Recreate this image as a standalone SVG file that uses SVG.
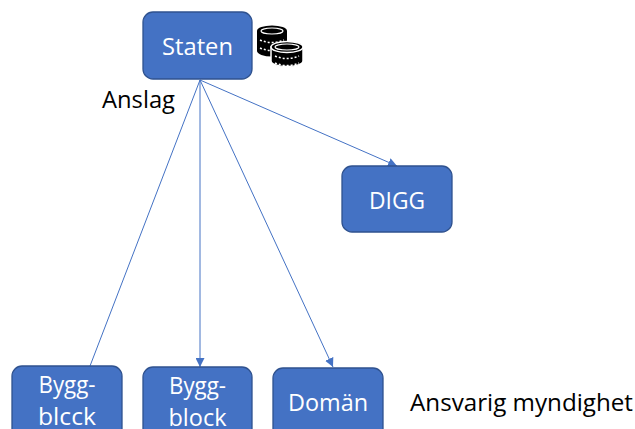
<svg xmlns="http://www.w3.org/2000/svg" width="635" height="429" viewBox="0 0 635 429">
<style>
.box{fill:#4472C4;stroke:#2F528F;stroke-width:1.3}
.bt{fill:#fff;font-family:"Open Sans","Liberation Sans",sans-serif;font-size:24px;text-anchor:middle}
.lbl{fill:#000;font-family:"Open Sans","Liberation Sans",sans-serif;font-size:24px}
.con{stroke:#4472C4;stroke-width:1;fill:none}
</style>
<defs>
<marker id="arr" viewBox="0 0 10 10" refX="10" refY="5" markerWidth="9" markerHeight="9" markerUnits="userSpaceOnUse" orient="auto">
<path d="M0,0 L10,5 L0,10 z" fill="#4472C4"/>
</marker>
</defs>
<rect width="635" height="429" fill="#fff"/>
<g id="connectors">
<line class="con" x1="200" y1="80" x2="90" y2="366"/>
<line class="con" x1="200" y1="80" x2="200" y2="367" marker-end="url(#arr)"/>
<line class="con" x1="200" y1="80" x2="333" y2="367" marker-end="url(#arr)"/>
<line class="con" x1="200" y1="80" x2="397" y2="166" marker-end="url(#arr)"/>
</g>
<g id="staten">
<rect class="box" x="143" y="12" width="109" height="67" rx="10"/>
<text class="bt" x="197.5" y="55" textLength="71" lengthAdjust="spacingAndGlyphs">Staten</text>
</g>
<g id="coins">
<g>
<path d="M257,31 L257,51 A15,5.5 0 0 0 287,51 L287,31 Z" fill="#000"/>
<ellipse cx="272" cy="31" rx="15" ry="5.5" fill="#000"/>
<ellipse cx="272" cy="31" rx="11" ry="3" fill="none" stroke="#fff" stroke-width="1.2"/>
<path d="M260,40 Q272,45 284,40" stroke="#fff" stroke-width="1.5" stroke-dasharray="2,2" fill="none"/>
<path d="M260,48 Q272,53 284,48" stroke="#fff" stroke-width="1.5" stroke-dasharray="2,2" fill="none"/>
</g>
<g>
<path d="M271,47 L271,61 A16,5.5 0 0 0 303,61 L303,47 Z" fill="#000" stroke="#fff" stroke-width="1.5"/>
<ellipse cx="287" cy="47" rx="16" ry="5.5" fill="#000" stroke="#fff" stroke-width="1.5"/>
<ellipse cx="287" cy="47" rx="12" ry="3" fill="none" stroke="#fff" stroke-width="1.2"/>
<path d="M275,56 Q287,61 299,56" stroke="#fff" stroke-width="1.5" stroke-dasharray="2,2" fill="none"/>
<path d="M275,63 Q287,68 299,63" stroke="#fff" stroke-width="1.5" stroke-dasharray="2,2" fill="none"/>
</g>
</g>
<g id="anslag">
<text class="lbl" x="102" y="108" textLength="73" lengthAdjust="spacingAndGlyphs">Anslag</text>
</g>
<g id="digg">
<rect class="box" x="342" y="166" width="110" height="66" rx="10"/>
<text class="bt" x="397" y="209" textLength="56" lengthAdjust="spacingAndGlyphs">DIGG</text>
</g>
<g id="byggblock1">
<rect class="box" x="12" y="366" width="110" height="80" rx="10"/>
<text class="bt" x="67" y="393" textLength="57" lengthAdjust="spacingAndGlyphs">Bygg-</text>
<text class="bt" x="67" y="425" textLength="58" lengthAdjust="spacingAndGlyphs">blcck</text>
</g>
<g id="byggblock2">
<rect class="box" x="143" y="367" width="109" height="80" rx="10"/>
<text class="bt" x="197.5" y="394" textLength="57" lengthAdjust="spacingAndGlyphs">Bygg-</text>
<text class="bt" x="197.5" y="426" textLength="58" lengthAdjust="spacingAndGlyphs">block</text>
</g>
<g id="doman">
<rect class="box" x="273" y="368" width="110" height="80" rx="10"/>
<text class="bt" x="328" y="411" textLength="80" lengthAdjust="spacingAndGlyphs">Domän</text>
</g>
<g id="ansvarig">
<text class="lbl" x="410" y="411" textLength="223" lengthAdjust="spacingAndGlyphs">Ansvarig myndighet</text>
</g>
</svg>
